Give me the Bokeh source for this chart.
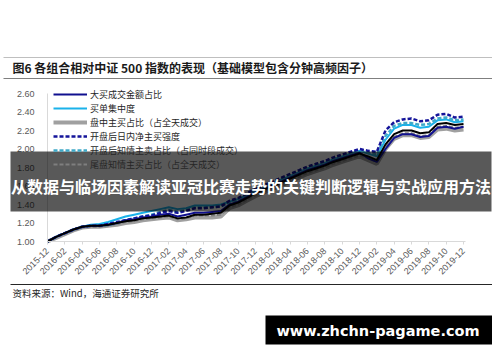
import math
from bokeh.plotting import figure
from bokeh.models import (Range1d, FixedTicker, NumeralTickFormatter, Legend,
                          LegendItem, Label, BoxAnnotation)
from bokeh.embed import file_html
from bokeh.resources import INLINE

# ---------------- data (monthly, 2015-12 .. 2019-12) ----------------
tick_labels = ["2015-12", "2016-02", "2016-04", "2016-06", "2016-08", "2016-10", "2016-12",
               "2017-02", "2017-04", "2017-06", "2017-08", "2017-10", "2017-12", "2018-02",
               "2018-04", "2018-06", "2018-08", "2018-10", "2018-12", "2019-02", "2019-04",
               "2019-06", "2019-08", "2019-10", "2019-12"]
y_ticks = [1.00, 1.20, 1.40, 1.60, 1.80, 2.00, 2.20, 2.40, 2.60]

combo_all = [1.00, 1.05, 1.09, 1.13, 1.16, 1.17, 1.17, 1.18, 1.20, 1.22, 1.23, 1.25, 1.26,
             1.27, 1.28, 1.25, 1.26, 1.29, 1.29, 1.30, 1.31, 1.39, 1.42, 1.47, 1.52, 1.56,
             1.60, 1.64, 1.68, 1.72, 1.76, 1.79, 1.82, 1.86, 1.89, 1.92, 1.95, 1.92, 1.88,
             2.05, 2.16, 2.20, 2.20, 2.17, 2.18, 2.27, 2.28, 2.26, 2.27]
big_buy_amount = [1.00, 1.05, 1.09, 1.13, 1.16, 1.17, 1.17, 1.18, 1.20, 1.23, 1.24, 1.26, 1.27,
                  1.29, 1.30, 1.27, 1.29, 1.31, 1.31, 1.32, 1.33, 1.40, 1.43, 1.48, 1.53, 1.57,
                  1.61, 1.65, 1.69, 1.73, 1.77, 1.80, 1.83, 1.87, 1.90, 1.93, 1.96, 1.90, 1.86,
                  2.00, 2.12, 2.16, 2.16, 2.13, 2.14, 2.23, 2.24, 2.22, 2.24]
buy_concentration = [1.00, 1.05, 1.09, 1.13, 1.16, 1.18, 1.19, 1.21, 1.24, 1.27, 1.29, 1.31, 1.33,
                     1.35, 1.37, 1.35, 1.36, 1.39, 1.39, 1.39, 1.40, 1.43, 1.46, 1.50, 1.55, 1.59,
                     1.63, 1.67, 1.71, 1.75, 1.79, 1.82, 1.85, 1.89, 1.92, 1.95, 1.98, 1.95, 1.92,
                     2.10, 2.22, 2.26, 2.26, 2.23, 2.24, 2.31, 2.32, 2.29, 2.30]
intraday_active_buy = [1.00, 1.04, 1.08, 1.12, 1.15, 1.16, 1.16, 1.17, 1.18, 1.20, 1.21, 1.23, 1.24,
                       1.25, 1.26, 1.23, 1.24, 1.26, 1.26, 1.26, 1.27, 1.36, 1.39, 1.44, 1.49, 1.53,
                       1.57, 1.61, 1.65, 1.69, 1.73, 1.76, 1.79, 1.83, 1.86, 1.89, 1.92, 1.88, 1.84,
                       2.00, 2.11, 2.15, 2.15, 2.12, 2.13, 2.21, 2.22, 2.20, 2.21]
open_net_buy = [1.00, 1.05, 1.09, 1.13, 1.16, 1.17, 1.17, 1.19, 1.21, 1.23, 1.25, 1.27, 1.28,
                1.31, 1.33, 1.31, 1.33, 1.36, 1.36, 1.37, 1.38, 1.44, 1.47, 1.52, 1.57, 1.61,
                1.65, 1.69, 1.73, 1.77, 1.81, 1.84, 1.87, 1.91, 1.94, 1.97, 2.00, 1.98, 1.97,
                2.20, 2.29, 2.32, 2.33, 2.30, 2.31, 2.37, 2.38, 2.34, 2.35]
open_informed_sell = [1.00, 1.05, 1.09, 1.13, 1.16, 1.17, 1.17, 1.18, 1.20, 1.23, 1.25, 1.27, 1.29,
                      1.32, 1.34, 1.32, 1.34, 1.37, 1.37, 1.37, 1.38, 1.42, 1.45, 1.50, 1.55, 1.59,
                      1.63, 1.67, 1.71, 1.75, 1.79, 1.82, 1.85, 1.89, 1.92, 1.95, 1.98, 1.96, 1.94,
                      2.14, 2.25, 2.28, 2.28, 2.26, 2.27, 2.33, 2.34, 2.31, 2.32]
close_informed_buy = [1.00, 1.05, 1.08, 1.12, 1.15, 1.16, 1.16, 1.17, 1.19, 1.21, 1.22, 1.24, 1.25,
                      1.26, 1.27, 1.24, 1.25, 1.28, 1.28, 1.28, 1.29, 1.37, 1.40, 1.45, 1.50, 1.54,
                      1.58, 1.62, 1.66, 1.70, 1.74, 1.77, 1.80, 1.84, 1.87, 1.90, 1.93, 1.90, 1.86,
                      2.02, 2.13, 2.17, 2.17, 2.14, 2.15, 2.24, 2.25, 2.23, 2.24]

series_names = ["大买成交金额占比", "买单集中度", "盘中主买占比（占全天成交）",
                "开盘后日内净主买强度", "开盘后知情主卖占比（占同时段成交）",
                "尾盘知情主买占比（占全天成交）"]

title_text = "图6  各组合相对中证 500 指数的表现（基础模型包含分钟高频因子）"
source_text = "资料来源：Wind，海通证券研究所"
banner_text = "从数据与临场因素解读亚冠比赛走势的关键判断逻辑与实战应用方法"
watermark_text = "www.zhchn-pagame.com"

x = list(range(len(combo_all)))
tick_pos = [2 * i for i in range(len(tick_labels))]

# ---------------- figure: the frame fills the canvas, axes sit at fixed locations ----------------
W, H = 492, 354
X0, PX_PER_MONTH = 47.0, 416.0 / 48.0     # canvas x of 2015-12, px per month
Y0, PX_PER_UNIT = 241.0, 92.5             # canvas y of value 1.00, px per 1.0
x_range = Range1d(-X0 / PX_PER_MONTH, (W - X0) / PX_PER_MONTH)
y_range = Range1d(1.0 - (H - Y0) / PX_PER_UNIT, 1.0 + Y0 / PX_PER_UNIT)

p = figure(width=W, height=H, output_backend="svg", toolbar_location=None,
           x_range=x_range, y_range=y_range,
           min_border_left=0, min_border_right=0, min_border_top=0, min_border_bottom=0)
p.outline_line_color = None
p.xgrid.visible = False
p.ygrid.visible = False
p.background_fill_color = "white"
p.border_fill_color = "white"

TICK_FONT = "Liberation Sans"
xa = p.xaxis[0]
xa.fixed_location = y_ticks[0]
xa.bounds = (0, 48.25)
xa.ticker = FixedTicker(ticks=tick_pos)
xa.major_label_overrides = {tp: lab for tp, lab in zip(tick_pos, tick_labels)}
xa.major_label_orientation = math.pi / 4
xa.axis_line_color = "#D9D9D9"
xa.major_tick_line_color = "#D9D9D9"
xa.major_tick_in = 0
xa.major_tick_out = 3
xa.minor_tick_line_color = None
xa.major_label_standoff = 5
xa.major_label_text_font = TICK_FONT
xa.major_label_text_font_size = "9px"
xa.major_label_text_color = "#595959"

ya = p.yaxis[0]
ya.fixed_location = 0
ya.bounds = (y_ticks[0], y_ticks[-1])
ya.ticker = FixedTicker(ticks=y_ticks)
ya.formatter = NumeralTickFormatter(format="0.00")
ya.axis_line_color = "#D9D9D9"
ya.major_tick_line_color = None
ya.minor_tick_line_color = None
ya.major_label_standoff = 7
ya.major_label_text_font = TICK_FONT
ya.major_label_text_font_size = "9px"
ya.major_label_text_color = "#595959"

# ---------------- lines ----------------
r_gray = p.line(x, intraday_active_buy, line_color="#A0A0A0", line_width=4)
r_gdash = p.line(x, close_informed_buy, line_color="#7F7F7F", line_width=2, line_dash="4 2")
r_cyan = p.line(x, buy_concentration, line_color="#1AB2EA", line_width=2)
r_teal = p.line(x, open_informed_sell, line_color="#3FA9C8", line_width=2.5, line_dash="4 2")
r_navy = p.line(x, big_buy_amount, line_color="#10108F", line_width=2)
r_ndash = p.line(x, open_net_buy, line_color="#14149A", line_width=2.5, line_dash="4 2")
r_black = p.line(x, combo_all, line_color="#000000", line_width=2)

# screen units are measured from the frame's bottom-left (= canvas bottom-left here)
def fx(cx):
    return cx

def fy(cy):
    return H - cy

legend = Legend(items=[LegendItem(label=n, renderers=[r]) for n, r in
                       zip(series_names, [r_navy, r_cyan, r_gray, r_ndash, r_teal, r_gdash])],
                location=(53, fy(87 + 6 * 14)), orientation="vertical",
                glyph_width=34, glyph_height=14, label_height=14, label_standoff=3,
                spacing=0, padding=0, margin=0,
                label_text_font="Noto Sans CJK SC", label_text_font_size="9px",
                label_text_color="#262626",
                border_line_color=None, background_fill_alpha=0)
p.add_layout(legend, "center")

def rule(cy, color, x0=0, x1=W):
    p.add_layout(BoxAnnotation(left=fx(x0), right=fx(x1), bottom=fy(cy + 0.5), top=fy(cy - 0.5),
                               left_units="screen", right_units="screen",
                               bottom_units="screen", top_units="screen",
                               fill_color=color, fill_alpha=1, line_color=None))

rule(57, "#BFBFBF", 3, W)
rule(78, "#7F7F7F", 3, W)
rule(284, "#262626", 10, W)

p.add_layout(Label(x=fx(12), y=fy(67), x_units="screen", y_units="screen", text=title_text,
                   text_font="Noto Sans CJK SC", text_font_style="bold", text_font_size="12px",
                   text_color="#1a1a1a", text_baseline="middle", text_align="left"))
p.add_layout(Label(x=fx(12), y=fy(292), x_units="screen", y_units="screen", text=source_text,
                   text_font="Noto Sans CJK SC", text_font_size="9.5px",
                   text_color="#262626", text_baseline="middle", text_align="left"))

# overlay banner
p.add_layout(BoxAnnotation(left=fx(10), right=fx(491), top=fy(151), bottom=fy(211),
                           left_units="screen", right_units="screen",
                           bottom_units="screen", top_units="screen",
                           fill_color="#000000", fill_alpha=0.65, line_color=None))
p.add_layout(Label(x=fx(250.5), y=fy(185), x_units="screen", y_units="screen", text=banner_text,
                   text_font="Noto Sans CJK SC", text_font_style="bold", text_font_size="16px",
                   text_color="white", text_baseline="middle", text_align="center"))

# watermark
p.add_layout(BoxAnnotation(left=fx(265), right=fx(492), top=fy(315), bottom=fy(344),
                           left_units="screen", right_units="screen",
                           bottom_units="screen", top_units="screen",
                           fill_color="#000000", fill_alpha=1, line_color=None))
p.add_layout(Label(x=fx(377.5), y=fy(330.5), x_units="screen", y_units="screen", text=watermark_text,
                   text_font="DejaVu Sans", text_font_style="bold", text_font_size="14.5px",
                   text_color="white", text_baseline="middle", text_align="center"))

open("out.html", "w").write(file_html(p, INLINE))
